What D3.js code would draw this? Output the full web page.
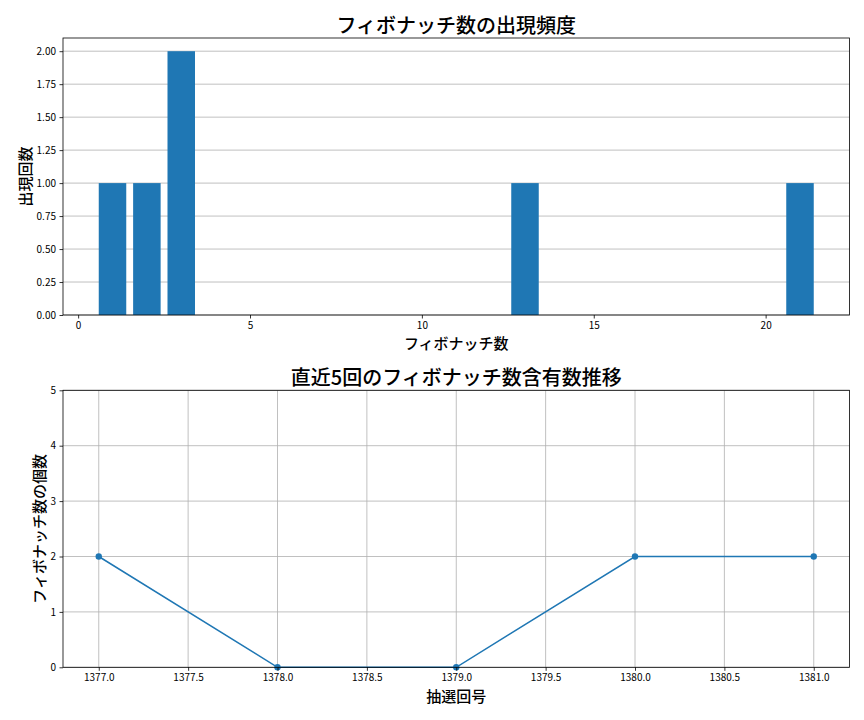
<!DOCTYPE html>
<html><head><meta charset="utf-8">
<script src="https://cdn.jsdelivr.net/npm/d3@7"></script>
<style>
body{margin:0;background:#fff;}
text{font-family:"Noto Sans CJK JP","Noto Sans",sans-serif;fill:#000;}
.lbl{font-weight:500;}
</style></head><body>
<svg id="c" width="864" height="720"></svg>
<script>
const fibNumbers = [1, 2, 3, 13, 21];
const fibCounts = [1, 1, 2, 1, 1];
const topYTicks = [0, 0.25, 0.5, 0.75, 1.0, 1.25, 1.5, 1.75, 2.0];
const topXTicks = [0, 5, 10, 15, 20];
const draws = [1377, 1378, 1379, 1380, 1381];
const fibPerDraw = [2, 0, 0, 2, 2];
const botXTicks = [1377.0, 1377.5, 1378.0, 1378.5, 1379.0, 1379.5, 1380.0, 1380.5, 1381.0];
const botYTicks = [0, 1, 2, 3, 4, 5];

const svg = d3.select("#c");
const blue = "#1f77b4", grid = "#b0b0b0";
const L = 63, R = 849.5;

function styleAxis(g){
  g.select(".domain").remove();
  g.selectAll(".tick line").attr("stroke","#000").attr("stroke-width",0.8);
  g.selectAll(".tick text").style("font-size","10px").attr("fill","#000");
}

// ---------- Top chart ----------
{
  const T = 38, B = 315;
  const x = d3.scaleLinear().domain([-0.44, 22.44]).range([L, R]);
  const y = d3.scaleLinear().domain([0, 2.1]).range([B, T]);
  const g = svg.append("g");
  g.selectAll(".gy").data(topYTicks).enter().append("line")
    .attr("x1",L).attr("x2",R).attr("y1",d=>y(d)).attr("y2",d=>y(d))
    .attr("stroke",grid).attr("stroke-width",0.8);
  g.selectAll(".bar").data(fibNumbers).enter().append("rect")
    .attr("x",d=>x(d-0.4)).attr("width",d=>x(d+0.4)-x(d-0.4))
    .attr("y",(d,i)=>y(fibCounts[i])).attr("height",(d,i)=>y(0)-y(fibCounts[i]))
    .attr("fill",blue);
  const ax = g.append("g").attr("transform",`translate(0,${B})`)
    .call(d3.axisBottom(x).tickValues(topXTicks).tickSize(3.5).tickPadding(3.5).tickFormat(d3.format("d")));
  styleAxis(ax);
  const ay = g.append("g").attr("transform",`translate(${L},0)`)
    .call(d3.axisLeft(y).tickValues(topYTicks).tickSize(3.5).tickPadding(3.5).tickFormat(d3.format(".2f")));
  styleAxis(ay);
  g.append("rect").attr("x",L).attr("y",T).attr("width",R-L).attr("height",B-T)
    .attr("fill","none").attr("stroke","#000").attr("stroke-width",0.8);
  g.append("text").attr("class","lbl").attr("x",(L+R)/2).attr("y",24).attr("text-anchor","middle")
    .attr("dominant-baseline","central").style("font-size","20px").text("フィボナッチ数の出現頻度");
  g.append("text").attr("class","lbl").attr("x",(L+R)/2).attr("y",342).attr("text-anchor","middle")
    .attr("dominant-baseline","central").style("font-size","15px").text("フィボナッチ数");
  g.append("text").attr("class","lbl").attr("transform",`translate(24,${(T+B)/2}) rotate(-90)`).attr("text-anchor","middle")
    .attr("dominant-baseline","central").style("font-size","15px").text("出現回数");
}

// ---------- Bottom chart ----------
{
  const T = 390.3, B = 667.3;
  const x = d3.scaleLinear().domain([1376.8, 1381.2]).range([L, R]);
  const y = d3.scaleLinear().domain([0, 5]).range([B, T]);
  const g = svg.append("g");
  g.selectAll(".gy").data(botYTicks).enter().append("line")
    .attr("x1",L).attr("x2",R).attr("y1",d=>y(d)).attr("y2",d=>y(d))
    .attr("stroke",grid).attr("stroke-width",0.8);
  g.selectAll(".gx").data(botXTicks).enter().append("line")
    .attr("y1",T).attr("y2",B).attr("x1",d=>x(d)).attr("x2",d=>x(d))
    .attr("stroke",grid).attr("stroke-width",0.8);
  const line = d3.line().x((d,i)=>x(draws[i])).y(d=>y(d));
  g.append("path").datum(fibPerDraw).attr("d",line).attr("fill","none")
    .attr("stroke",blue).attr("stroke-width",1.5);
  g.selectAll(".pt").data(fibPerDraw).enter().append("circle")
    .attr("cx",(d,i)=>x(draws[i])).attr("cy",d=>y(d)).attr("r",3.2).attr("fill",blue);
  const ax = g.append("g").attr("transform",`translate(0,${B})`)
    .call(d3.axisBottom(x).tickValues(botXTicks).tickSize(3.5).tickPadding(3.5).tickFormat(d3.format(".1f")));
  styleAxis(ax);
  const ay = g.append("g").attr("transform",`translate(${L},0)`)
    .call(d3.axisLeft(y).tickValues(botYTicks).tickSize(3.5).tickPadding(3.5).tickFormat(d3.format("d")));
  styleAxis(ay);
  g.append("rect").attr("x",L).attr("y",T).attr("width",R-L).attr("height",B-T)
    .attr("fill","none").attr("stroke","#000").attr("stroke-width",0.8);
  g.append("text").attr("class","lbl").attr("x",(L+R)/2).attr("y",376).attr("text-anchor","middle")
    .attr("dominant-baseline","central").style("font-size","20px").text("直近5回のフィボナッチ数含有数推移");
  g.append("text").attr("class","lbl").attr("x",(L+R)/2).attr("y",695).attr("text-anchor","middle")
    .attr("dominant-baseline","central").style("font-size","15px").text("抽選回号");
  g.append("text").attr("class","lbl").attr("transform",`translate(38,${(T+B)/2}) rotate(-90)`).attr("text-anchor","middle")
    .attr("dominant-baseline","central").style("font-size","15px").text("フィボナッチ数の個数");
}
</script></body></html>
